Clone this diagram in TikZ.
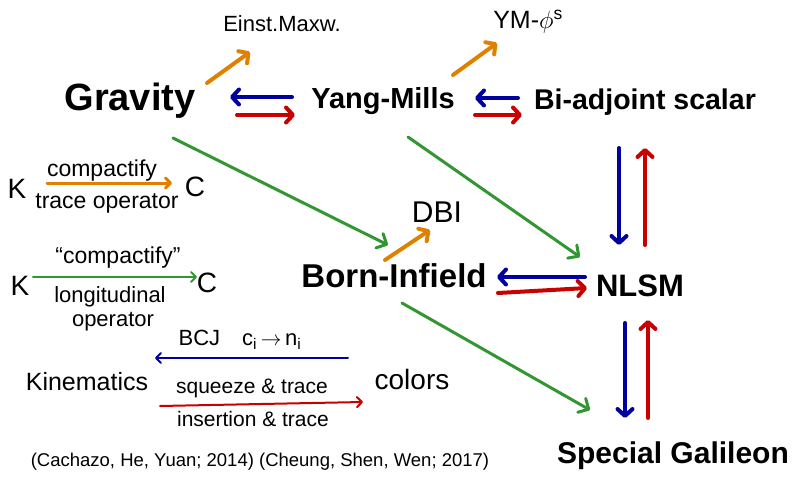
\documentclass[tikz,border=0pt]{standalone}
\usepackage{fontspec}
\setmainfont{Liberation Sans}
\usetikzlibrary{arrows.meta}
\definecolor{cOr}{RGB}{224,128,0}
\definecolor{cBl}{RGB}{0,0,160}
\definecolor{cRd}{RGB}{200,0,0}
\definecolor{cGr}{RGB}{50,150,50}
\begin{document}
\begin{tikzpicture}[x=1pt,y=-1pt,
  big/.style={font=\bfseries\fontsize{#1}{#1}\selectfont, inner sep=0pt},
  lbl/.style={font=\fontsize{#1}{#1}\selectfont, inner sep=0pt},
  arr/.style={line width=4pt, line cap=round, -{Straight Barb[length=7pt,width=15pt,line cap=round,line join=round]}},
  garr/.style={line width=3pt, line cap=round, cGr, -{Straight Barb[length=8pt,width=16pt,line cap=round,line join=round]}},
  thin/.style={line width=2pt, line cap=round, -{Straight Barb[length=5pt,width=10pt,line cap=round,line join=round]}}
]
\useasboundingbox (0,0) rectangle (793,479);
% main nodes
\node[big=38] (grav) at (130,101) {Gravity};
\node[big=29] (ym) at (383,101) {Yang-Mills};
\node[big=28.5] (bas) at (645,102) {Bi-adjoint scalar};
\node[big=33] (bi) at (394,276) {Born-Infield};
\node[big=31] (nlsm) at (640,286) {NLSM};
\node[big=30] (sg) at (673,456) {Special Galileon};
\node[lbl=22] (em) at (282,24) {Einst.Maxw.};
\node[lbl=25] (ymp) at (528,22) {YM-\(\phi^{\mathrm{s}}\)};
\node[lbl=30] (dbi) at (437,212) {DBI};
% legend
\node[lbl=28] (k1) at (17,189) {K};
\node[lbl=28] (c1) at (195,187) {C};
\node[lbl=23] (cp1) at (102,171) {compactify};
\node[lbl=23] (to1) at (107,203) {trace operator};
\node[lbl=28] (k2) at (20,286) {K};
\node[lbl=28] (c2) at (207,283) {C};
\node[lbl=23] (cp2) at (118,258) {“compactify”};
\node[lbl=22] (lo) at (110,297) {longitudinal};
\node[lbl=22] (op) at (113,322) {operator};
\node[lbl=22] (bcj) at (240,340) {BCJ\quad c\textsubscript{i}\,\(\rightarrow\)\,n\textsubscript{i}};
\node[lbl=25] (kin) at (87,382) {Kinematics};
\node[lbl=28] (col) at (412,379) {colors};
\node[lbl=21] (sq) at (252,388) {squeeze \& trace};
\node[lbl=21] (ins) at (253,419) {insertion \& trace};
\node[lbl=18.5] (cit) at (260,462) {(Cachazo, He, Yuan; 2014) (Cheung, Shen, Wen; 2017)};
% endpoints
\coordinate (a1) at (207,83);  \coordinate (a2) at (250,52);
\coordinate (b1) at (292,97);  \coordinate (b2) at (230,97);
\coordinate (r1) at (237,115); \coordinate (r2) at (295,115);
\coordinate (a3) at (453,75);  \coordinate (a4) at (497,43);
\coordinate (b3) at (518,98);  \coordinate (b4) at (475,98);
\coordinate (r3) at (475,115); \coordinate (r4) at (522,115);
\coordinate (g1) at (173,138); \coordinate (g2) at (388,245);
\coordinate (g3) at (408,137); \coordinate (g4) at (580,257);
\coordinate (a5) at (385,260); \coordinate (a6) at (430,230);
\coordinate (b5) at (619,148); \coordinate (b6) at (619,245);
\coordinate (r5) at (645,245); \coordinate (r6) at (645,148);
\coordinate (b7) at (585,277); \coordinate (b8) at (497,277);
\coordinate (r7) at (498,293); \coordinate (r8) at (587,288);
\coordinate (g5) at (402,303); \coordinate (g6) at (590,410);
\coordinate (b9) at (625,323); \coordinate (b10) at (625,418);
\coordinate (r9) at (648,418); \coordinate (r10) at (648,320);
\coordinate (l1) at (47,183);  \coordinate (l2) at (172,183);
\coordinate (l3) at (33,277);  \coordinate (l4) at (197,277);
\coordinate (l5) at (348,358); \coordinate (l6) at (155,358);
\coordinate (l7) at (160,406); \coordinate (l8) at (363,402);
% main arrows
\draw[arr,cOr] (a1) -- (a2);
\draw[arr,cBl] (b1) -- (b2);
\draw[arr,cRd] (r1) -- (r2);
\draw[arr,cOr] (a3) -- (a4);
\draw[arr,cBl] (b3) -- (b4);
\draw[arr,cRd] (r3) -- (r4);
\draw[garr] (g1) -- (g2);
\draw[garr] (g3) -- (g4);
\draw[arr,cOr] (a5) -- (a6);
\draw[arr,cBl] (b5) -- (b6);
\draw[arr,cRd] (r5) -- (r6);
\draw[arr,cBl] (b7) -- (b8);
\draw[arr,cRd] (r7) -- (r8);
\draw[garr] (g5) -- (g6);
\draw[arr,cBl] (b9) -- (b10);
\draw[arr,cRd] (r9) -- (r10);
% legend arrows
\draw[thin,cOr,line width=3pt] (l1) -- (l2);
\draw[thin,cGr] (l3) -- (l4);
\draw[thin,cBl] (l5) -- (l6);
\draw[thin,cRd] (l7) -- (l8);
\end{tikzpicture}
\end{document}
